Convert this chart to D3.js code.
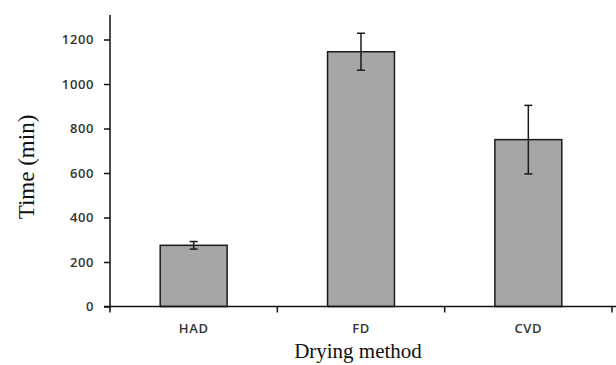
<!DOCTYPE html>
<html><head><meta charset="utf-8">
<script src="https://cdn.jsdelivr.net/npm/d3@7"></script>
<style>body{margin:0;background:#fff}</style>
</head><body>
<svg id="c" width="616" height="365"></svg>
<script>
const categories = ["HAD", "FD", "CVD"];
const values = [275, 1145, 750];
const errors = [17, 83, 154];
const yTicks = [0, 200, 400, 600, 800, 1000, 1200];

const svg = d3.select("#c");
const x0 = 110, x1 = 612, yBase = 306.5;
const x = d3.scaleBand().domain(categories).range([x0, x1]).paddingInner(0.6).paddingOuter(0.3);
const y = d3.scaleLinear().domain([0, 1200]).range([yBase, 39.5]);
const tickFont = "'Open Sans', Lato, sans-serif";

// bars
svg.selectAll("rect.bar").data(categories).join("rect")
  .attr("x", d => x(d)).attr("width", x.bandwidth())
  .attr("y", (d, i) => y(values[i])).attr("height", (d, i) => yBase - y(values[i]))
  .attr("fill", "#a6a6a6").attr("stroke", "#1a1a1a").attr("stroke-width", 1.5);

// error bars
const eb = svg.append("g").attr("stroke", "#1a1a1a").attr("stroke-width", 1.5);
categories.forEach((c, i) => {
  const cx = x(c) + x.bandwidth() / 2;
  const t = y(values[i] + errors[i]), b = y(values[i] - errors[i]);
  eb.append("line").attr("x1", cx).attr("x2", cx).attr("y1", t).attr("y2", b);
  eb.append("line").attr("x1", cx - 4).attr("x2", cx + 4).attr("y1", t).attr("y2", t);
  eb.append("line").attr("x1", cx - 4).attr("x2", cx + 4).attr("y1", b).attr("y2", b);
});

// y axis
const yAxis = d3.axisLeft(y).tickValues(yTicks).tickFormat(d3.format("d"))
  .tickSize(6).tickPadding(10).tickSizeOuter(0);
const ga = svg.append("g").attr("transform", `translate(${x0},0)`).call(yAxis);
ga.select(".domain").attr("d", `M0,${yBase}V${y(1310)}`);
ga.selectAll("line,path").attr("stroke", "#111").attr("stroke-width", 1.5);
ga.selectAll("text").attr("font-family", tickFont).attr("font-size", 13)
  .attr("font-weight", 600).attr("letter-spacing", 0.6).attr("fill", "#333");

// x axis
const xb = svg.append("g").attr("stroke", "#111").attr("stroke-width", 1.5);
xb.append("line").attr("x1", x0 - 6).attr("x2", 616).attr("y1", yBase).attr("y2", yBase);
const bounds = [0, 1, 2, 3].map(i => x0 + i * (x1 - x0) / 3);
bounds.forEach(b => xb.append("line").attr("x1", b).attr("x2", b).attr("y1", yBase).attr("y2", yBase + 6));

svg.selectAll("text.xl").data(categories).join("text")
  .attr("x", d => x(d) + x.bandwidth() / 2).attr("y", 333)
  .attr("text-anchor", "middle")
  .attr("font-family", tickFont).attr("font-size", 13)
  .attr("font-weight", 600).attr("letter-spacing", 0.6).attr("fill", "#333").text(d => d);

// titles
svg.append("text").attr("x", 358).attr("y", 358).attr("text-anchor", "middle")
  .attr("font-family", "'Liberation Serif', 'Times New Roman', serif").attr("font-size", 21)
  .attr("fill", "#111").text("Drying method");
svg.append("text").attr("transform", "translate(34,167) rotate(-90)").attr("text-anchor", "middle")
  .attr("font-family", "'Liberation Serif', 'Times New Roman', serif").attr("font-size", 23)
  .attr("fill", "#111").text("Time (min)");
</script>
</body></html>
